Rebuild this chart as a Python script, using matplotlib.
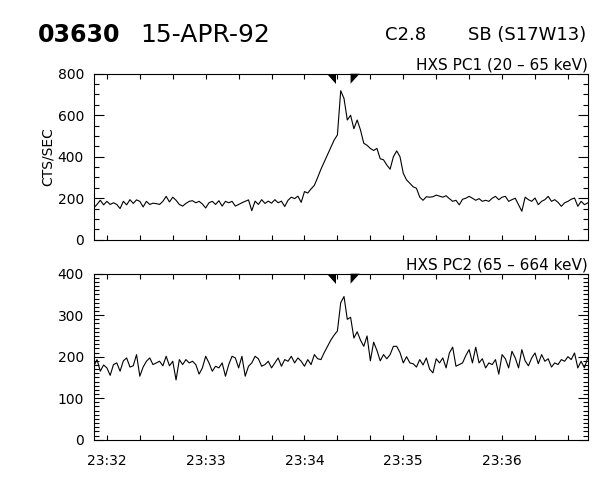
import numpy as np
import matplotlib
matplotlib.use('Agg')
import matplotlib.pyplot as plt
from matplotlib.ticker import MultipleLocator, FixedLocator

# Temps : secondes depuis 23:31:52, pas de 2 s
t0 = 0
dt = 2
n_pts = 151

# HXS PC1 (20 - 65 keV), coups/s
pc1 = [153, 170, 190, 168, 185, 170, 178, 170, 150, 185,
       168, 193, 175, 192, 185, 158, 185, 170, 176, 174,
       170, 185, 209, 182, 205, 190, 170, 162, 175, 185,
       188, 178, 185, 172, 153, 178, 185, 170, 188, 162,
       185, 178, 185, 162, 170, 178, 185, 192, 140, 186,
       170, 193, 175, 186, 176, 193, 178, 186, 160, 190,
       205, 198, 210, 180, 232, 225, 245, 262, 300, 340,
       375, 410, 445, 480, 505, 718, 681, 577, 600, 535,
       577, 529, 465, 455, 440, 430, 440, 390, 385, 360,
       340, 400, 428, 400, 320, 288, 272, 255, 248, 205,
       190, 207, 205, 207, 215, 210, 205, 212, 198, 185,
       190, 168, 195, 200, 209, 200, 190, 198, 185, 190,
       185, 200, 209, 193, 205, 209, 185, 193, 200, 169,
       137, 205, 193, 185, 201, 169, 185, 193, 209, 185,
       193, 180, 161, 178, 185, 195, 201, 161, 185, 169,
       177]

# HXS PC2 (65 - 664 keV), coups/s
pc2 = [177, 193, 165, 180, 173, 155, 181, 185, 165, 190,
       197, 175, 178, 205, 153, 175, 189, 197, 181, 185,
       189, 178, 201, 178, 189, 144, 193, 181, 193, 185,
       189, 181, 158, 173, 201, 185, 165, 177, 173, 185,
       153, 181, 201, 197, 173, 201, 153, 177, 185, 201,
       195, 177, 181, 189, 173, 185, 197, 177, 193, 189,
       201, 185, 197, 189, 177, 193, 181, 205, 195, 193,
       210, 225, 240, 252, 262, 330, 345, 290, 295, 245,
       260, 240, 225, 250, 190, 235, 215, 190, 205, 195,
       205, 225, 225, 210, 185, 200, 185, 183, 175, 193,
       180, 197, 170, 161, 195, 185, 197, 173, 209, 223,
       177, 181, 185, 203, 217, 185, 223, 185, 195, 173,
       185, 181, 193, 158, 205, 195, 173, 213, 197, 173,
       217, 190, 178, 197, 209, 183, 205, 189, 195, 175,
       185, 181, 193, 189, 200, 193, 209, 173, 189, 173,
       197]

# Repères (secondes depuis 23:31:52)
mark_times = [147, 156]

# Graduations de temps
minute_ticks = [8, 68, 128, 188, 248]
minute_labels = ['23:32', '23:33', '23:34', '23:35', '23:36']

t = t0 + dt * np.arange(n_pts)

fig = plt.figure(figsize=(6, 4.8), dpi=100)
ax1 = fig.add_axes([0.1562, 0.5006, 0.8233, 0.3458])
ax2 = fig.add_axes([0.1562, 0.0840, 0.8233, 0.3458])

panels = [
    (ax1, pc1, 800, 200, 50, 'HXS PC1 (20 – 65 keV)'),
    (ax2, pc2, 400, 100, 10, 'HXS PC2 (65 – 664 keV)'),
]

for ax, y, ymax, major, minor, label in panels:
    ax.plot(t, y, color='black', lw=0.8)
    ax.set_xlim(0, 300)
    ax.set_ylim(0, ymax)
    ax.yaxis.set_major_locator(MultipleLocator(major))
    ax.yaxis.set_minor_locator(MultipleLocator(minor))
    ax.xaxis.set_major_locator(FixedLocator(minute_ticks))
    ax.xaxis.set_minor_locator(MultipleLocator(20, offset=8))
    ax.tick_params(axis='both', which='both', direction='in',
                   top=True, right=True, width=0.8, color='black')
    ax.tick_params(axis='y', which='major', length=7.2, labelsize=10, pad=7)
    ax.tick_params(axis='y', which='minor', length=3.8)
    ax.tick_params(axis='x', which='both', length=3.6, labelsize=10, pad=10)
    for s in ax.spines.values():
        s.set_linewidth(0.8)
    # triangles de repère en haut du cadre
    tr = ax.get_xaxis_transform()
    a, b = mark_times
    ax.fill([a - 5.5, a, a], [1, 1, 0.94], color='black', transform=tr,
            clip_on=False, lw=0)
    ax.fill([b, b + 5.5, b], [1, 1, 0.94], color='black', transform=tr,
            clip_on=False, lw=0)
    ax.text(1.0, 1.01, label, transform=ax.transAxes, ha='right', va='bottom',
            fontsize=11)

ax1.set_xticklabels([])
ax2.set_xticklabels(minute_labels)

fig.text(48 / 600, 1 - 157 / 480, 'CTS/SEC', rotation=90, ha='center',
         va='center', fontsize=10)

fig.text(38 / 600, 1 - 42 / 480, '03630', fontsize=17, fontweight='bold',
         ha='left', va='baseline')
fig.text(140 / 600, 1 - 42 / 480, '15-APR-92', fontsize=18,
         ha='left', va='baseline')
fig.text(385 / 600, 1 - 40 / 480, 'C2.8', fontsize=13,
         ha='left', va='baseline')
fig.text(586 / 600, 1 - 40 / 480, 'SB (S17W13)', fontsize=13,
         ha='right', va='baseline')

fig.savefig('out.png', dpi=100)
